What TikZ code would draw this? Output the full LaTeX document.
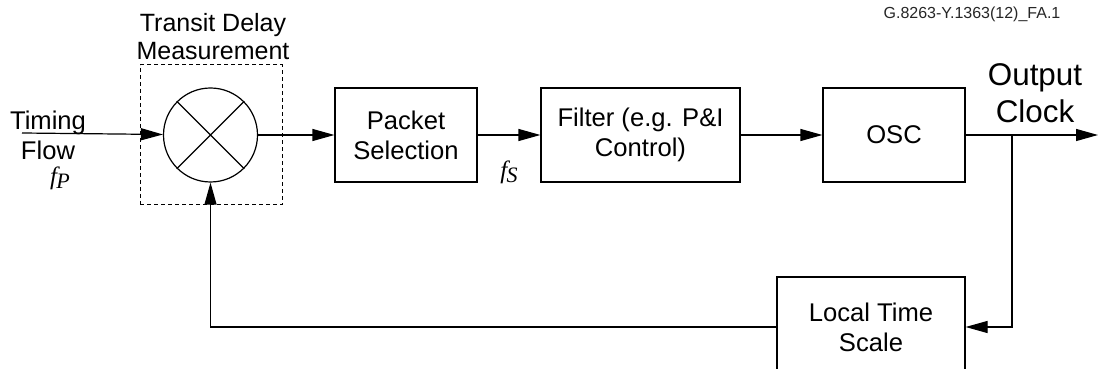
\documentclass[tikz,border=0pt]{standalone}
\usepackage{fontspec}
\setmainfont{Liberation Sans}
\newfontfamily\timesfont{Liberation Serif}
\usetikzlibrary{arrows.meta}

\newcommand{\freq}[1]{{\timesfont\itshape\fontsize{12.5}{12.5}\selectfont f\kern-0.3pt\raisebox{-0.4ex}{\fontsize{11}{11}\selectfont #1}}}

\begin{document}
\begin{tikzpicture}[x=0.5pt,y=0.5pt,line width=0.6pt,
  >={Triangle[length=11pt,width=6pt]},
  txt/.style={align=center,font=\fontsize{12.8}{15}\selectfont},
  blk/.style={txt,draw,inner sep=0pt,minimum height=47pt}]
  \useasboundingbox (0,0) rectangle (1098,369);
  % transit delay measurement
  \node[draw,dashed,dash pattern=on 2pt off 1.5pt,line width=0.5pt,minimum width=71pt,minimum height=70pt] (tdm) at (211,234) {};
  \node[draw,circle,minimum size=47pt,inner sep=0pt] (mix) at (210.5,234) {};
  \draw (mix.45) -- (mix.225) (mix.135) -- (mix.-45);
  \node[txt,font=\fontsize{12.5}{14}\selectfont] (tdmlbl) at (213,332) {Transit Delay\\Measurement};
  % blocks
  \node[blk,minimum width=71pt] (pkt) at (406,234) {Packet\\Selection};
  \node[blk,minimum width=99.5pt] (flt) at (640.5,234) {Filter (e.g. P\&I\\Control)};
  \node[blk,minimum width=71pt] (osc) at (894,234) {OSC};
  \node[blk,minimum width=94pt,minimum height=50pt] (lts) at (871,42) {Local Time\\Scale};
  \coordinate (in) at (22,236);
  \coordinate (out) at (1098,234);
  \coordinate (tap) at (1012,234);
  % labels
  \node[txt] (tflbl) at (48,234) {Timing\\Flow};
  \node (fp) at (60,191) {\freq{P}};
  \node (fs) at (509,197) {\freq{S}};
  \node[align=center,font=\fontsize{15.7}{18.5}\selectfont] (outlbl) at (1035,276) {Output\\Clock};
  \node[font=\fontsize{8}{9}\selectfont,text=black!85] (tag) at (972,355) {G.8263-Y.1363(12)\_FA.1};
  % connectors
  \draw[->] (in) -- (mix);
  \draw[->] (mix) -- (pkt);
  \draw[->] (pkt) -- (flt);
  \draw[->] (flt) -- (osc);
  \draw[->] (osc) -- (out);
  \draw[->] (tap) |- (lts);
  \draw[->] (lts) -| (mix);
\end{tikzpicture}
\end{document}
